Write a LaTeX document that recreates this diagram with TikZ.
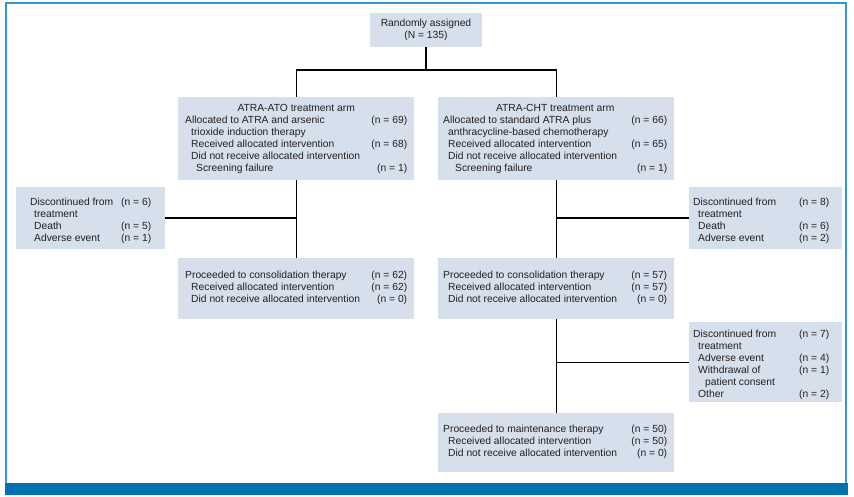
\documentclass[tikz,border=0pt]{standalone}
\usepackage{fontspec}
\setmainfont{Liberation Sans}
\definecolor{boxfill}{RGB}{214,223,236}
\definecolor{framecol}{RGB}{52,152,212}
\definecolor{barcol}{RGB}{0,114,174}
\definecolor{txtcol}{RGB}{35,31,32}
\newcommand\ind[1]{\hspace*{#1pt}}
\newenvironment{rows}[1]{\begin{tabular*}{#1pt}{@{}l@{\extracolsep{\fill}}r@{}}}{\end{tabular*}}
\begin{document}
\begin{tikzpicture}[x=1pt,y=-1pt,
  box/.style={fill=boxfill, draw=none, inner sep=0, anchor=north west},
  txt/.style={anchor=north west, inner sep=0, font=\fontsize{10.3}{12}\selectfont, text=txtcol},
  conn/.style={draw=black, line width=1.4pt},
  frame/.style={draw=framecol, line width=1.5pt}]
\useasboundingbox (0,0) rectangle (854,497);
% frame
\draw[frame] (6,484) -- (6,3) -- (846,3) -- (846,484);
\fill[barcol] (5.25,483) rectangle (848,495);
% boxes
\node[box, anchor=center, minimum width=112, minimum height=34, align=center,
  font=\fontsize{10.3}{12}\selectfont, text=txtcol] (rand) at (426,30) {Randomly assigned\\(N = 135)};
\node[box, minimum width=236, minimum height=83] (arm1) at (178,97) {};
\node[box, minimum width=236, minimum height=83] (arm2) at (438,97) {};
\node[box, minimum width=149, minimum height=62] (disc1) at (16,187) {};
\node[box, minimum width=153, minimum height=62] (disc2) at (689,187) {};
\node[box, minimum width=236, minimum height=61] (cons1) at (178,258) {};
\node[box, minimum width=236, minimum height=61] (cons2) at (438,258) {};
\node[box, minimum width=153, minimum height=80] (disc3) at (689,322) {};
\node[box, minimum width=236, minimum height=59] (maint) at (438,413) {};
% texts
\node[txt] (arm1t) at (185,103) {\begin{rows}{222}
\multicolumn{2}{c}{ATRA-ATO treatment arm}\\
Allocated to ATRA and arsenic & (n = 69)\\
\ind{6}trioxide induction therapy & \\
\ind{6}Received allocated intervention & (n = 68)\\
\ind{6}Did not receive allocated intervention & \\
\ind{11}Screening failure & (n = 1)
\end{rows}};
\node[txt] (arm2t) at (443,103) {\begin{rows}{224}
\multicolumn{2}{c}{ATRA-CHT treatment arm}\\
Allocated to standard ATRA plus & (n = 66)\\
\ind{5}anthracycline-based chemotherapy & \\
\ind{5}Received allocated intervention & (n = 65)\\
\ind{5}Did not receive allocated intervention & \\
\ind{12}Screening failure & (n = 1)
\end{rows}};
\node[txt] (disc1t) at (30,196.5) {\begin{rows}{121}
Discontinued from & (n = 6)\\
\ind{4}treatment & \\
\ind{4}Death & (n = 5)\\
\ind{4}Adverse event & (n = 1)
\end{rows}};
\node[txt] (disc2t) at (693,196.5) {\begin{rows}{136}
Discontinued from & (n = 8)\\
\ind{5}treatment & \\
\ind{5}Death & (n = 6)\\
\ind{5}Adverse event & (n = 2)
\end{rows}};
\node[txt] (cons1t) at (185,269.5) {\begin{rows}{222}
Proceeded to consolidation therapy & (n = 62)\\
\ind{6}Received allocated intervention & (n = 62)\\
\ind{6}Did not receive allocated intervention & (n = 0)
\end{rows}};
\node[txt] (cons2t) at (443,269.5) {\begin{rows}{224}
Proceeded to consolidation therapy & (n = 57)\\
\ind{5}Received allocated intervention & (n = 57)\\
\ind{5}Did not receive allocated intervention & (n = 0)
\end{rows}};
\node[txt] (disc3t) at (693,329) {\begin{rows}{136}
Discontinued from & (n = 7)\\
\ind{5}treatment & \\
\ind{5}Adverse event & (n = 4)\\
\ind{5}Withdrawal of & (n = 1)\\
\ind{12}patient consent & \\
\ind{5}Other & (n = 2)
\end{rows}};
\node[txt] (maintt) at (443,424) {\begin{rows}{224}
Proceeded to maintenance therapy & (n = 50)\\
\ind{5}Received allocated intervention & (n = 50)\\
\ind{5}Did not receive allocated intervention & (n = 0)
\end{rows}};
% connectors
\coordinate (split) at (426,70);
\draw[conn] (rand.south) -- (split);
\draw[conn] (arm1.north) |- (split) -| (arm2.north);
\draw[conn] (arm1.south) -- (cons1.north);
\draw[conn] (arm2.south) -- (cons2.north);
\draw[conn] (cons2.south) -- (maint.north);
\draw[conn] (disc1.east) -- (disc1.east -| arm1.south);
\draw[conn] (disc2.west) -- (disc2.west -| arm2.south);
\draw[conn] (disc3.west) -- (disc3.west -| cons2.south);
\end{tikzpicture}
\end{document}
